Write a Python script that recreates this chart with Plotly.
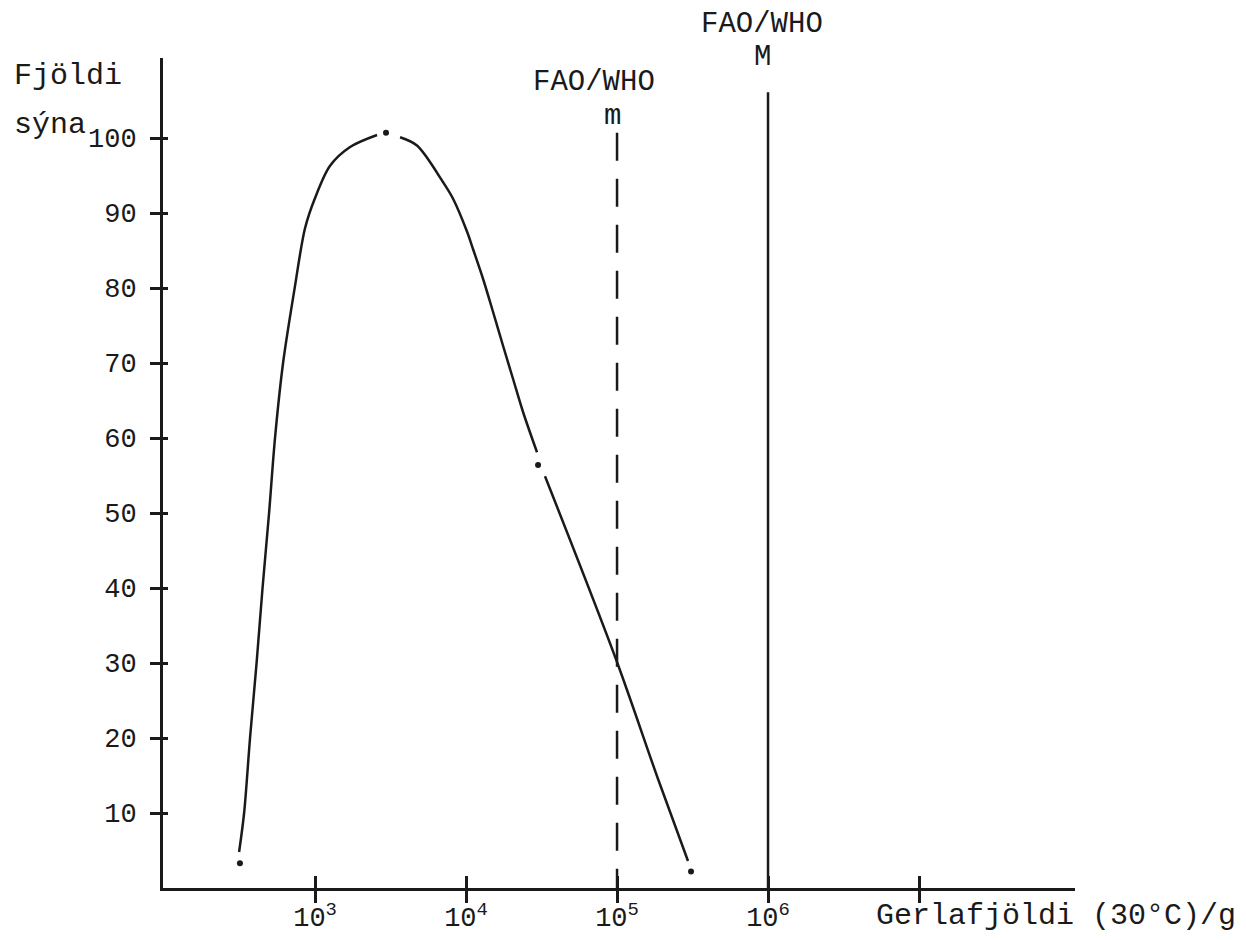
import plotly.graph_objects as go

# ---------------- data ----------------
# curve drawn in three strokes, broken at the plotted sample points
rise_x = [314, 339, 371, 410, 449, 496, 543, 614, 733, 859, 1000, 1257, 1706, 2574]
rise_y = [4.8, 10.0, 20.0, 30.0, 40.0, 50.0, 60.0, 70.0, 80.0, 88.0, 92.0, 96.3, 98.8, 100.4]

fall_x = [3656, 4732, 7047, 8204, 10160, 11120, 12970, 15100, 17580, 20460, 23820, 29510]
fall_y = [100.1, 99.0, 94.1, 91.9, 87.5, 85.2, 81.2, 76.8, 72.3, 67.9, 63.5, 58.1]

tail_x = [33340, 98400, 187100, 295100]
tail_y = [54.9, 30.5, 14.5, 3.6]

point_x = [318, 2951, 29990, 309000]
point_y = [3.3, 100.7, 56.4, 2.2]

# FAO/WHO limits: m (dashed) and M (solid)
limit_x = [1e5, 1e6]
limit_top = [100.7, 106.1]

y_ticks = [10, 20, 30, 40, 50, 60, 70, 80, 90, 100]
x_ticks = [1e3, 1e4, 1e5, 1e6, 1e7]
x_ticktext = ["10<sup>3</sup>", "10<sup>4</sup>", "10<sup>5</sup>", "10<sup>6</sup>", ""]

# ---------------- layout geometry ----------------
W, H = 1246, 940
OFF = 8  # page body margin
L, R, T, B = 163 - OFF, 1075 - OFF, 58 - OFF, 888 - OFF
X_RANGE = [1.993, 8.033]
Y_RANGE = [0, (B - T) / 7.5]

FONT = "Liberation Mono, Courier New, monospace"
INK = "#1a1a1a"


def px(x):
    return (x - OFF - L) / (R - L)


def py(y):
    return (B - (y - OFF)) / (B - T)


fig = go.Figure()

for xs, ys in [(rise_x, rise_y), (fall_x, fall_y), (tail_x, tail_y)]:
    fig.add_trace(go.Scatter(x=xs, y=ys, mode="lines",
                             line=dict(color=INK, width=2.5, shape="spline", smoothing=0.9),
                             hoverinfo="skip", showlegend=False))

# limit lines
fig.add_trace(go.Scatter(x=[limit_x[0], limit_x[0]], y=[limit_top[0], 0], mode="lines",
                         line=dict(color=INK, width=2.5, dash="28px,18px"), showlegend=False))
fig.add_trace(go.Scatter(x=[limit_x[1], limit_x[1]], y=[limit_top[1], 0], mode="lines",
                         line=dict(color=INK, width=2.5), showlegend=False))

# sample points (on overlay axes, which carry the inner half of the ticks)
fig.add_trace(go.Scatter(x=point_x, y=point_y, mode="markers", xaxis="x2", yaxis="y2",
                         marker=dict(color=INK, size=6, symbol="circle"), showlegend=False))

fig.update_layout(
    width=W, height=H,
    margin=dict(l=L, r=W - R, t=T, b=H - B, pad=0, autoexpand=False),
    paper_bgcolor="white", plot_bgcolor="white",
    showlegend=False,
    xaxis=dict(type="log", range=X_RANGE, tickvals=x_ticks, ticktext=x_ticktext,
               ticks="outside", ticklen=12, tickwidth=3, tickcolor=INK, automargin=False,
               showline=True, linewidth=3, linecolor=INK, showgrid=False, zeroline=False,
               ticklabelstandoff=-9,
               tickfont=dict(family=FONT, size=27, color=INK)),
    yaxis=dict(range=Y_RANGE, tickvals=y_ticks, ticks="outside", ticklen=10, tickwidth=3,
               tickcolor=INK, showline=True, linewidth=3, linecolor=INK, showgrid=False,
               zeroline=False, automargin=False, ticklabelstandoff=8,
               tickfont=dict(family=FONT, size=27, color=INK)),
    xaxis2=dict(type="log", range=X_RANGE, overlaying="x", anchor="y", side="bottom",
                tickvals=x_ticks, ticks="inside", ticklen=12, tickwidth=3, tickcolor=INK,
                showticklabels=False, showline=False, showgrid=False, zeroline=False),
    yaxis2=dict(range=Y_RANGE, overlaying="y", anchor="x", side="left", tickvals=y_ticks,
                ticks="inside", ticklen=5, tickwidth=3, tickcolor=INK,
                showticklabels=False, showline=False, showgrid=False, zeroline=False),
)

annots = [
    dict(text="Fjöldi", x=px(12), y=py(76), xanchor="left", size=30),
    dict(text="sýna", x=px(12), y=py(125), xanchor="left", size=30),
    dict(text="FAO/WHO", x=px(594), y=py(82), xanchor="center", size=29),
    dict(text="m", x=px(612), y=py(117), xanchor="center", size=29),
    dict(text="FAO/WHO", x=px(762), y=py(24), xanchor="center", size=29),
    dict(text="M", x=px(762), y=py(57), xanchor="center", size=29),
    dict(text="Gerlafjöldi (30°C)/g", x=px(1238), y=py(916), xanchor="right", size=30),
]
for a in annots:
    size = a.pop("size")
    fig.add_annotation(xref="paper", yref="paper", yanchor="middle", showarrow=False,
                       font=dict(family=FONT, size=size, color=INK), **a)

fig.write_html("out.html")
